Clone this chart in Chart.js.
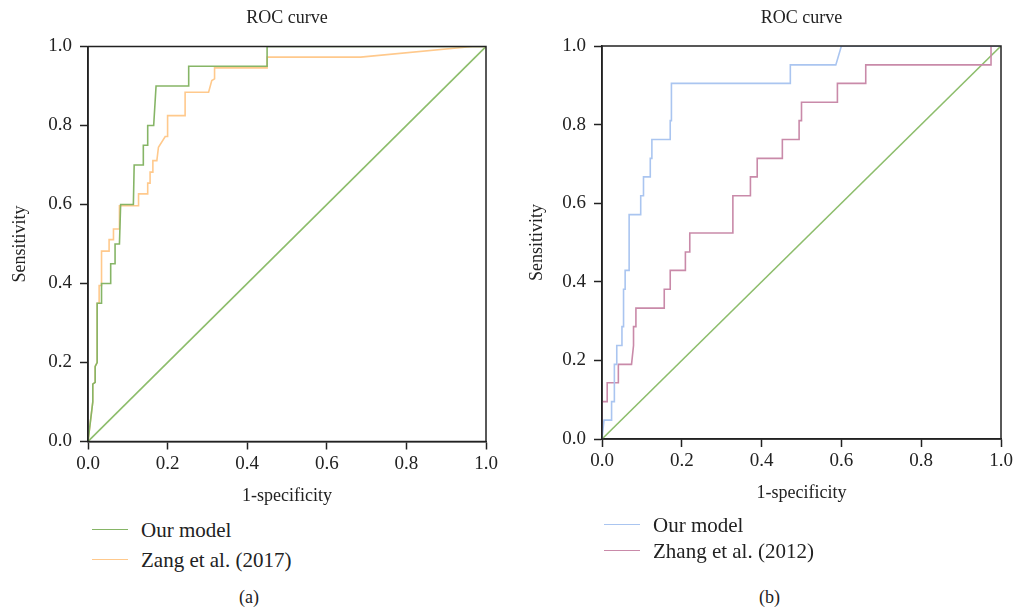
<!DOCTYPE html>
<html>
<head>
<meta charset="utf-8">
<script src="https://cdn.jsdelivr.net/npm/chart.js@4/dist/chart.umd.min.js"></script>
<style>
    body { margin: 0; width: 1013px; height: 607px; background: #fff; position: relative; overflow: hidden; font-family: "Liberation Serif", serif; color: #222; }
    canvas { position: absolute; top: 0; }
    #chartA { left: 0; }
    #chartB { left: 512px; }
    .legend { position: absolute; font-size: 21px; }
    .legend div { position: relative; white-space: nowrap; }
    .legend span.line { position: absolute; left: 0; width: 36px; height: 0; border-top: 1.5px solid; }
    .legend span.label { position: absolute; left: 49px; }
    .caption { position: absolute; font-size: 18px; top: 587px; }
</style>
</head>
<body>
<canvas id="chartA" width="574" height="515"></canvas>
<canvas id="chartB" width="566" height="512"></canvas>
<div class="legend" id="legendA" style="left:92px; top:515px;"></div>
<div class="legend" id="legendB" style="left:604px; top:512px;"></div>
<div class="caption" style="left:239px;">(a)</div>
<div class="caption" style="left:759px;">(b)</div>

<script>
// panel (a)
const namesA = ['Our model', 'Zang et al. (2017)'];
const colorsA = ['#86b566', '#ffc98c'];
const oursA_fpr = [0, 0.012, 0.012, 0.018, 0.018, 0.023, 0.023, 0.034, 0.034, 0.057, 0.057, 0.068, 0.068, 0.079, 0.082, 0.114, 0.116, 0.139, 0.139, 0.15, 0.15, 0.165, 0.171, 0.253, 0.253, 0.45, 0.45, 1];
const oursA_tpr = [0, 0.1, 0.145, 0.15, 0.19, 0.2, 0.35, 0.35, 0.4, 0.4, 0.45, 0.45, 0.5, 0.5, 0.6, 0.6, 0.7, 0.7, 0.75, 0.75, 0.8, 0.8, 0.9, 0.9, 0.95, 0.95, 1, 1];
const zangA_fpr = [0, 0.012, 0.012, 0.018, 0.018, 0.023, 0.023, 0.028, 0.028, 0.034, 0.034, 0.053, 0.053, 0.064, 0.064, 0.079, 0.079, 0.127, 0.127, 0.15, 0.15, 0.156, 0.156, 0.163, 0.163, 0.173, 0.177, 0.194, 0.2, 0.2, 0.244, 0.244, 0.303, 0.311, 0.318, 0.318, 0.45, 0.45, 0.685, 0.966, 1];
const zangA_tpr = [0, 0.1, 0.145, 0.15, 0.19, 0.2, 0.35, 0.35, 0.395, 0.395, 0.482, 0.482, 0.511, 0.511, 0.538, 0.538, 0.597, 0.597, 0.627, 0.627, 0.654, 0.654, 0.682, 0.682, 0.711, 0.711, 0.745, 0.772, 0.772, 0.825, 0.825, 0.884, 0.884, 0.914, 0.918, 0.946, 0.946, 0.973, 0.973, 1, 1];

// panel (b)
const namesB = ['Our model', 'Zhang et al. (2012)'];
const colorsB = ['#aac5f0', '#c98aa9'];
const oursB_fpr = [0, 0.005, 0.024, 0.024, 0.031, 0.031, 0.037, 0.037, 0.05, 0.05, 0.054, 0.054, 0.058, 0.058, 0.068, 0.068, 0.097, 0.097, 0.104, 0.104, 0.121, 0.121, 0.125, 0.125, 0.171, 0.171, 0.174, 0.174, 0.472, 0.472, 0.586, 0.6, 1];
const oursB_tpr = [0, 0.048, 0.048, 0.095, 0.095, 0.19, 0.19, 0.238, 0.238, 0.286, 0.286, 0.381, 0.381, 0.429, 0.429, 0.571, 0.571, 0.619, 0.619, 0.667, 0.667, 0.714, 0.714, 0.762, 0.762, 0.81, 0.81, 0.905, 0.905, 0.952, 0.952, 1, 1];
const zhangB_fpr = [0, 0, 0.013, 0.013, 0.041, 0.041, 0.074, 0.079, 0.079, 0.085, 0.085, 0.156, 0.156, 0.171, 0.171, 0.209, 0.209, 0.22, 0.22, 0.328, 0.328, 0.372, 0.372, 0.389, 0.389, 0.452, 0.452, 0.494, 0.494, 0.5, 0.5, 0.59, 0.59, 0.661, 0.661, 0.975, 0.975, 1];
const zhangB_tpr = [0, 0.095, 0.095, 0.143, 0.143, 0.19, 0.19, 0.238, 0.286, 0.286, 0.333, 0.333, 0.381, 0.381, 0.429, 0.429, 0.476, 0.476, 0.524, 0.524, 0.619, 0.619, 0.667, 0.667, 0.714, 0.714, 0.762, 0.762, 0.81, 0.81, 0.857, 0.857, 0.905, 0.905, 0.952, 0.952, 1, 1];

const diagonal = [0, 1];
const diagColor = '#8dbd6c';
const tickValues = [0, 0.2, 0.4, 0.6, 0.8, 1.0];

const ink = '#222';
const serif = '"Liberation Serif", serif';

function toPoints(xs, ys) {
    return xs.map((x, i) => ({ x: x, y: ys[i] }));
}

function curve(label, color, xs, ys) {
    return {
        label: label,
        data: toPoints(xs, ys),
        borderColor: color,
        borderWidth: 1.6,
        showLine: true,
        pointRadius: 0,
        tension: 0
    };
}

// draws the box round the plot area
const frame = {
    id: 'frame',
    afterDraw(chart) {
        const { ctx, chartArea: a } = chart;
        ctx.save();
        ctx.strokeStyle = ink;
        ctx.lineWidth = 1.5;
        ctx.strokeRect(a.left, a.top, a.right - a.left, a.bottom - a.top);
        ctx.restore();
    }
};

function makeChart(id, datasets, cfg) {
    const axis = (titleText, titlePad, size, horizontal) => ({
        type: 'linear',
        min: 0,
        max: 1,
        afterBuildTicks: s => { s.ticks = tickValues.map(v => ({ value: v })); },
        ticks: {
            color: ink,
            font: { family: serif, size: 19 },
            padding: horizontal ? 3 : 8,
            maxRotation: 0,
            callback: v => v.toFixed(1)
        },
        grid: { display: true, drawOnChartArea: false, drawTicks: true, tickLength: 8, tickColor: ink, tickWidth: 1.5 },
        border: { display: true, color: ink, width: 1.5 },
        title: { display: true, text: titleText, color: ink, font: { family: serif, size: 18 }, padding: titlePad },
        afterFit: s => {
            if (horizontal) s.height = size; else s.width = size;
        }
    });

    return new Chart(document.getElementById(id), {
        type: 'scatter',
        data: { datasets: datasets },
        options: {
            responsive: false,
            animation: false,
            layout: { padding: { left: 0, right: cfg.padRight, top: 0, bottom: 0 } },
            plugins: {
                legend: { display: false },
                tooltip: { enabled: false },
                title: {
                    display: true,
                    fullSize: false,
                    text: 'ROC curve',
                    color: ink,
                    font: { family: serif, size: 18, weight: 'normal' },
                    padding: { top: 7, bottom: cfg.titleBottom }
                }
            },
            scales: {
                x: axis('1-specificity', { top: 0, bottom: 8 }, cfg.xHeight, true),
                y: axis('Sensitivity', { top: cfg.yTitlePad, bottom: 0 }, cfg.yWidth, false)
            }
        },
        plugins: [frame]
    });
}

function makeLegend(id, names, colors, rowHeight) {
    const box = document.getElementById(id);
    names.forEach((name, i) => {
        const row = document.createElement('div');
        row.style.height = rowHeight + 'px';
        row.style.lineHeight = rowHeight + 'px';
        row.innerHTML = `<span class="line" style="top:${rowHeight / 2 - 1}px;border-color:${colors[i]}"></span><span class="label">${name}</span>`;
        box.appendChild(row);
    });
}

makeChart('chartA', [
    curve(namesA[0], colorsA[0], oursA_fpr, oursA_tpr),
    curve(namesA[1], colorsA[1], zangA_fpr, zangA_tpr),
    curve('', diagColor, diagonal, diagonal)
], { padRight: 88, titleBottom: 17.9, xHeight: 73.5, yWidth: 88, yTitlePad: 9 });

makeChart('chartB', [
    curve(namesB[0], colorsB[0], oursB_fpr, oursB_tpr),
    curve(namesB[1], colorsB[1], zhangB_fpr, zhangB_tpr),
    curve('', diagColor, diagonal, diagonal)
], { padRight: 77, titleBottom: 17.4, xHeight: 73, yWidth: 90, yTitlePad: 14 });

makeLegend('legendA', namesA, colorsA, 30);
makeLegend('legendB', namesB, colorsB, 26);
</script>
</body>
</html>
